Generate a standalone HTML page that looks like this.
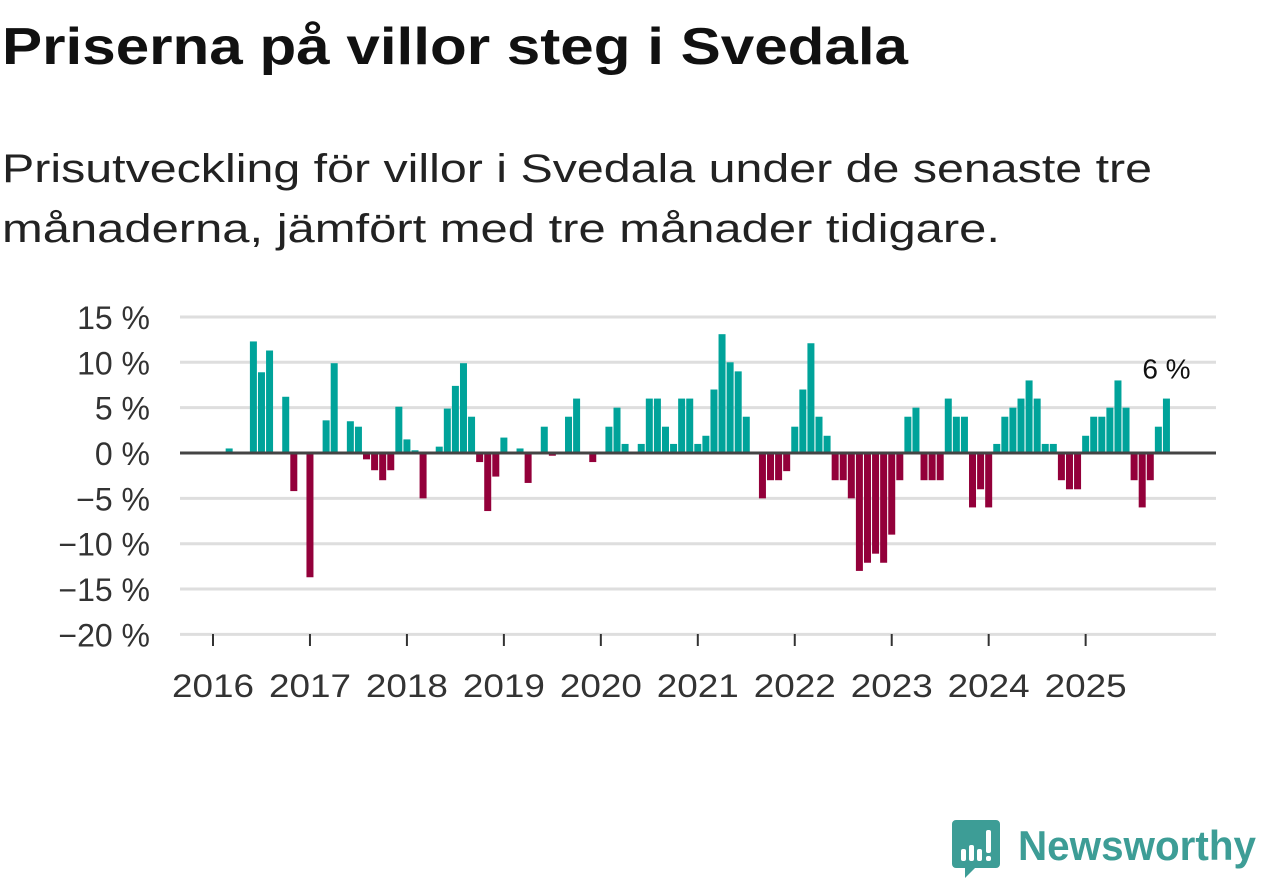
<!DOCTYPE html>
<html><head><meta charset="utf-8"><style>
html,body{margin:0;padding:0;background:#fff;}
svg{display:block;font-family:"Liberation Sans","DejaVu Sans",sans-serif;}
</style></head><body>
<svg id="chart" width="1262" height="879" viewBox="0 0 1262 879" xmlns="http://www.w3.org/2000/svg">
<text x="2" y="64" font-size="52" font-weight="bold" fill="#111" textLength="906" lengthAdjust="spacingAndGlyphs">Priserna på villor steg i Svedala</text>
<text x="2" y="182" font-size="40" fill="#222" textLength="1150" lengthAdjust="spacingAndGlyphs">Prisutveckling för villor i Svedala under de senaste tre</text>
<text x="2" y="242" font-size="40" fill="#222" textLength="998" lengthAdjust="spacingAndGlyphs">månaderna, jämfört med tre månader tidigare.</text>
<g id="grid"></g>
<g id="bars"></g>
<g id="axes"></g>
<g>
<path d="M956 820 h40 a4 4 0 0 1 4 4 v40 a4 4 0 0 1 -4 4 h-21 l-10 10 v-10 h-9 a4 4 0 0 1 -4 -4 v-40 a4 4 0 0 1 4 -4z" fill="#3d9d96"/>
<rect x="961" y="849" width="5" height="12" rx="2" fill="#fff"/>
<rect x="969" y="845" width="5" height="16" rx="2" fill="#fff"/>
<rect x="977" y="849" width="5" height="12" rx="2" fill="#fff"/>
<rect x="986" y="830" width="5" height="23" rx="2" fill="#fff"/>
<rect x="986" y="856" width="5" height="5" rx="2" fill="#fff"/>
<text x="1018" y="860" font-size="42" font-weight="bold" fill="#3d9d96" textLength="238" lengthAdjust="spacingAndGlyphs">Newsworthy</text>
</g>
</svg>
<script>
const values = [0,0,0.5,0,0,12.3,8.9,11.3,0,6.2,-4.2,0,
-13.7,0,3.6,9.9,0,3.5,2.9,-0.7,-1.9,-3.0,-1.9,5.1,
1.5,0.3,-5.0,0,0.7,4.9,7.4,9.9,4.0,-1.0,-6.4,-2.6,
1.7,0,0.5,-3.3,0,2.9,-0.3,0,4.0,6.0,0,-1.0,
0,2.9,5.0,1.0,0,1.0,6.0,6.0,2.9,1.0,6.0,6.0,
1.0,1.9,7.0,13.1,10.0,9.0,4.0,0,-5.0,-3.0,-3.0,-2.0,
2.9,7.0,12.1,4.0,1.9,-3.0,-3.0,-5.0,-13.0,-12.1,-11.1,-12.1,
-9.0,-3.0,4.0,5.0,-3.0,-3.0,-3.0,6.0,4.0,4.0,-6.0,-4.0,
-6.0,1.0,4.0,5.0,6.0,8.0,6.0,1.0,1.0,-3.0,-4.0,-4.0,
1.9,4.0,4.0,5.0,8.0,5.0,-3.0,-6.0,-3.0,2.9,6.0];
const yTicks = [15,10,5,0,-5,-10,-15,-20];
const yTickLabels = ["15 %","10 %","5 %","0 %","−5 %","−10 %","−15 %","−20 %"];
const years = [2016,2017,2018,2019,2020,2021,2022,2023,2024,2025];
const lastLabel = "6 %";

const NS="http://www.w3.org/2000/svg";
const x0=180,x1=1216,zeroY=453,pxPer=9.07,jan2016=213,monthW=8.08;
function y(v){return zeroY - v*pxPer;}
function x(i){return jan2016 + i*monthW;}
function mk(tag,attrs,parent){const e=document.createElementNS(NS,tag);for(const k in attrs)e.setAttribute(k,attrs[k]);parent.appendChild(e);return e;}
const grid=document.getElementById('grid'),bars=document.getElementById('bars'),axes=document.getElementById('axes');
yTicks.forEach((t,k)=>{
  if(t!==0){const l=mk('line',{x1:x0,x2:x1,y1:y(t),y2:y(t),stroke:'#dedede','stroke-width':3},grid);
  
  }
  const tx=mk('text',{x:150,y:y(t)+12,'font-size':32,fill:'#333','text-anchor':'end'},axes);
  tx.textContent=yTickLabels[k];
  
  
});
values.forEach((v,i)=>{
  if(v===0)return;
  const top=Math.min(y(v),zeroY),h=Math.abs(y(v)-zeroY);
  const r=mk('rect',{x:x(i)-3.5,y:top,width:7,height:h,fill:v>0?'#00a39a':'#93003a'},bars);
  
  
});
const zl=mk('line',{x1:x0,x2:x1,y1:zeroY,y2:zeroY,stroke:'#444','stroke-width':3},axes);


years.forEach((yr,k)=>{
  const xx=x(k*12);
  const t=mk('line',{x1:xx,x2:xx,y1:634,y2:646,stroke:'#333','stroke-width':2},axes);
  
  
  const tx=mk('text',{x:xx,y:697,'font-size':32,fill:'#333','text-anchor':'middle',textLength:82,lengthAdjust:'spacingAndGlyphs'},axes);
  tx.textContent=yr;
  
  
});
const li=values.length-1;
const lbl=mk('text',{x:x(li),y:y(values[li])-20,'font-size':28,fill:'#111','text-anchor':'middle'},axes);
lbl.textContent=lastLabel;


</script>
</body></html>
